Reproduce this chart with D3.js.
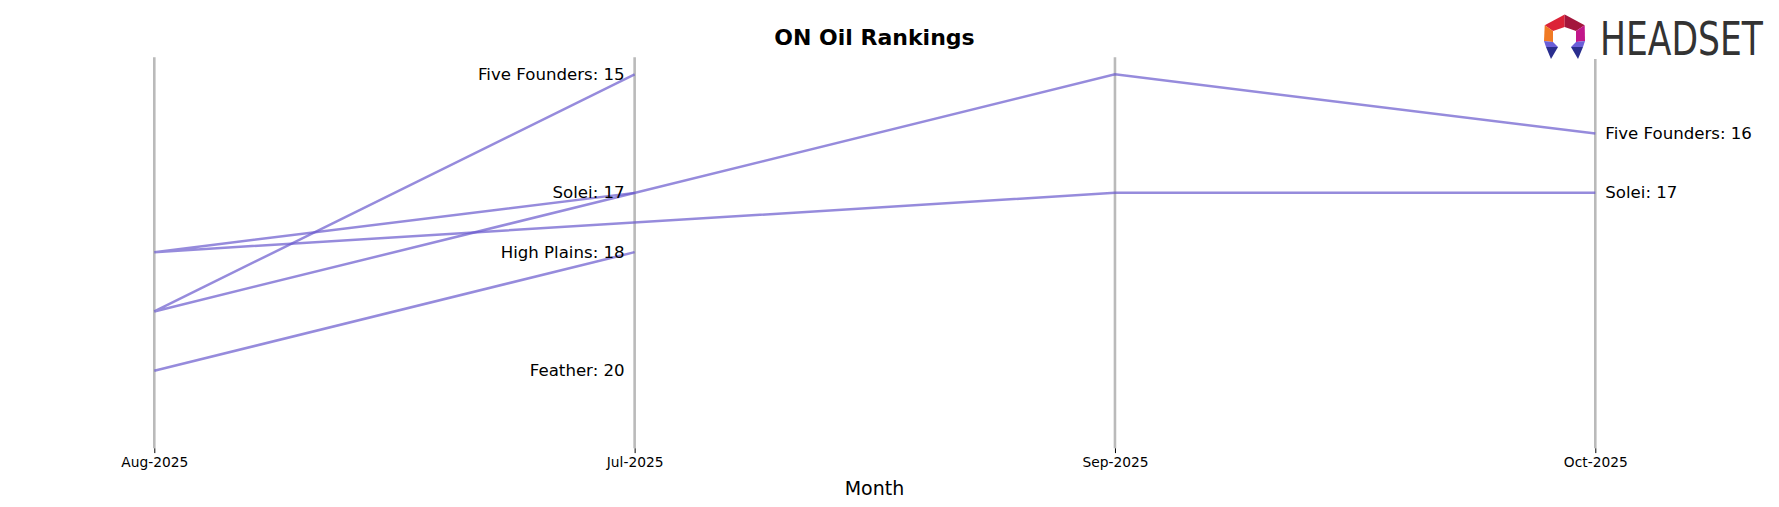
<!DOCTYPE html>
<html>
<head>
<meta charset="utf-8">
<script src="https://cdn.jsdelivr.net/npm/d3@7"></script>
<style>
  html, body { margin: 0; padding: 0; background: #fff; }
  svg { display: block; }
  text { font-family: "DejaVu Sans", sans-serif; }
</style>
</head>
<body>
<svg id="chart" width="1779" height="507"></svg>
<script>
// ---- data ----
const months = ["Aug-2025", "Jul-2025", "Sep-2025", "Oct-2025"];
const brands = ["Five Founders", "Solei", "High Plains", "Feather"];
const fiveFoundersMonths = ["Jul-2025", "Aug-2025", "Sep-2025", "Oct-2025"];
const fiveFoundersRanks = [15, 19, 15, 16];
const soleiMonths = ["Jul-2025", "Aug-2025", "Sep-2025", "Oct-2025"];
const soleiRanks = [17, 18, 17, 17];
const highPlainsMonths = ["Jul-2025", "Aug-2025"];
const highPlainsRanks = [18, 20];
const featherMonths = ["Jul-2025"];
const featherRanks = [20];
const title = "ON Oil Rankings";
const xLabel = "Month";

const series = [
  { name: brands[0], months: fiveFoundersMonths, ranks: fiveFoundersRanks },
  { name: brands[1], months: soleiMonths, ranks: soleiRanks },
  { name: brands[2], months: highPlainsMonths, ranks: highPlainsRanks },
  { name: brands[3], months: featherMonths, ranks: featherRanks }
];

const svg = d3.select("#chart");

const x = d3.scalePoint().domain(months).range([154.3, 1595.3]);
const y = d3.scaleLinear().domain([14.713, 21.309]).range([57.3, 448.3]);

// vertical month guide lines
svg.append("g").selectAll("line").data(months).join("line")
  .attr("x1", d => x(d)).attr("x2", d => x(d))
  .attr("y1", y.range()[0]).attr("y2", y.range()[1])
  .attr("stroke", "#bababa").attr("stroke-width", 2.6);

// x axis
const xAxis = svg.append("g")
  .attr("transform", `translate(0,${y.range()[1]})`)
  .call(d3.axisBottom(x).tickSize(4.8).tickPadding(4));
xAxis.select(".domain").remove();
xAxis.selectAll(".tick line").attr("stroke", "#000").attr("stroke-width", 1);
xAxis.selectAll(".tick text")
  .attr("font-family", "DejaVu Sans, sans-serif")
  .attr("font-size", 13.8).attr("fill", "#000");

// lines
const line = d3.line().x(d => x(d.m)).y(d => y(d.r));
series.forEach(s => {
  const pts = s.months.map((m, i) => ({ m, r: s.ranks[i] }));
  if (pts.length > 1) {
    svg.append("path").datum(pts)
      .attr("d", line)
      .attr("fill", "none")
      .attr("stroke", "#6a5acd")
      .attr("stroke-opacity", 0.7)
      .attr("stroke-width", 2.5)
      .attr("stroke-linejoin", "miter");
  }
});

// labels at first month and last month
const first = months[1], last = months[3];
series.forEach(s => {
  const i0 = s.months.indexOf(first);
  if (i0 >= 0) {
    svg.append("text")
      .attr("x", x(first) - 10).attr("y", y(s.ranks[i0]))
      .attr("text-anchor", "end").attr("dominant-baseline", "central")
      .attr("font-size", 16.6).attr("fill", "#000")
      .text(`${s.name}: ${s.ranks[i0]}`);
  }
  const i1 = s.months.indexOf(last);
  if (i1 >= 0) {
    svg.append("text")
      .attr("x", x(last) + 10).attr("y", y(s.ranks[i1]))
      .attr("text-anchor", "start").attr("dominant-baseline", "central")
      .attr("font-size", 16.6).attr("fill", "#000")
      .text(`${s.name}: ${s.ranks[i1]}`);
  }
});

// title and axis label
svg.append("text").attr("x", 874.5).attr("y", 37.5)
  .attr("text-anchor", "middle").attr("dominant-baseline", "central")
  .attr("font-size", 22).attr("font-weight", "bold").attr("fill", "#000")
  .text(title);
svg.append("text").attr("x", 874.5).attr("y", 488)
  .attr("text-anchor", "middle").attr("dominant-baseline", "central")
  .attr("font-size", 19).attr("fill", "#000")
  .text(xLabel);

// logo
const logo = svg.append("g");
logo.append("rect").attr("x", 1538).attr("y", 8).attr("width", 232).attr("height", 51).attr("fill", "#fff");
const icon = logo.append("g").attr("transform", "translate(1544,14)");
const facets = [
  { p: [[20.7,0.5],[20.7,13],[9,17],[0.7,11.3]], c: "#dc2337" },
  { p: [[20.7,0.5],[40.7,11.3],[32,17],[20.7,13]], c: "#a3163c" },
  { p: [[0.7,11.3],[9,17],[9,28],[0,27]], c: "#f07a24" },
  { p: [[40.7,11.3],[41,27],[32,28],[32,17]], c: "#c2178a" },
  { p: [[0,27],[9,28],[14,33],[2,33]], c: "#6b5fd8" },
  { p: [[2,33],[14,33],[7,45]], c: "#2a2e8e" },
  { p: [[41,27],[32,28],[27,33],[39,33]], c: "#6b5fd8" },
  { p: [[39,33],[27,33],[34,45]], c: "#2a2e8e" }
];
icon.selectAll("polygon").data(facets).join("polygon")
  .attr("points", d => d.p.map(q => q.join(",")).join(" "))
  .attr("fill", d => d.c);
const logoText = logo.append("text")
  .attr("font-family", "Roboto, sans-serif").attr("font-size", 46)
  .attr("font-weight", 500).attr("fill", "#333")
  .text("HEADSET");
const tw = logoText.node().getComputedTextLength();
logoText.attr("transform", `translate(1600,55) scale(${163 / tw},1)`);
</script>
</body>
</html>
